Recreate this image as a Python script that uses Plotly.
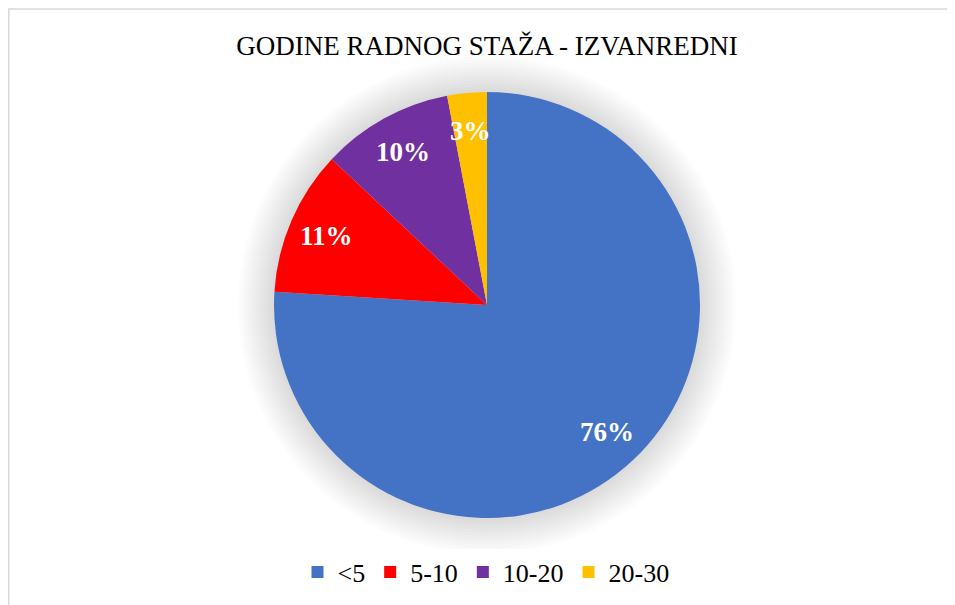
import math
import plotly.graph_objects as go

categories = ["<5", "5-10", "10-20", "20-30"]
values = [76, 11, 10, 3]
colors = ["#4472C4", "#FF0000", "#7030A0", "#FFC000"]
title_text = "GODINE RADNOG STAŽA - IZVANREDNI"

# page has an 8px body margin; work in window pixels and convert
OFF = 8
W, H = 947, 597
cx, cy, r = 487, 305, 213

def px(x):
    return (x - OFF) / W

def py(y):
    return 1 - (y - OFF) / H

fig = go.Figure()
fig.add_trace(go.Pie(
    labels=categories,
    values=values,
    sort=False,
    direction="clockwise",
    rotation=0,
    marker=dict(colors=colors, line=dict(width=0)),
    textinfo="none",
    domain=dict(x=[px(cx - r), px(cx + r)], y=[py(cy + r), py(cy - r)]),
    hoverinfo="label+percent",
))

# percentage labels placed at slice mid-angles (derived from the values)
total = sum(values)
annotations = []
cum = 0
for v in values:
    mid = (cum + v / 2) / total * 2 * math.pi
    cum += v
    frac = 0.82
    lx = cx + frac * r * math.sin(mid)
    ly = cy - frac * r * math.cos(mid)
    annotations.append(dict(
        x=px(lx), y=py(ly), xref="paper", yref="paper", showarrow=False,
        text=f"{round(v / total * 100)}%",
        font=dict(family="Liberation Serif", size=27, color="white", weight="bold"),
        xanchor="center", yanchor="middle",
    ))

shapes = []
# soft glow behind the pie
n = 12
for i in range(n):
    d = 3 + i * 3
    shapes.append(dict(
        type="circle", xref="paper", yref="paper", layer="below",
        x0=px(cx - r - d), x1=px(cx + r + d), y0=py(cy + r + d), y1=py(cy - r - d),
        fillcolor="rgba(0,0,0,0.011)", line=dict(width=0),
    ))
# chart border
shapes.append(dict(
    type="rect", xref="paper", yref="paper", layer="above",
    x0=px(8.75), x1=px(W + OFF + 5), y0=py(H + OFF + 5), y1=py(9),
    line=dict(color="#D9D9D9", width=1.5), fillcolor="rgba(0,0,0,0)",
))

fig.update_layout(
    width=W, height=H,
    margin=dict(l=0, r=0, t=0, b=0),
    paper_bgcolor="white",
    plot_bgcolor="white",
    shapes=shapes,
    annotations=annotations,
    title=dict(text=title_text, x=px(487), xanchor="center", y=py(46), yanchor="middle",
               font=dict(family="Liberation Serif", size=27, color="#000000")),
    legend=dict(orientation="h", x=px(486), xanchor="center", y=py(572), yanchor="middle",
                font=dict(family="Liberation Serif", size=26, color="#000000"),
                itemwidth=30, traceorder="normal"),
    showlegend=True,
)

fig.write_html("out.html")
